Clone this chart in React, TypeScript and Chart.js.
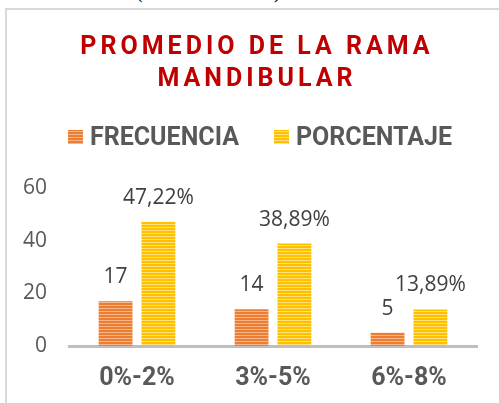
import React, { useEffect, useRef } from "react";
import { Chart, registerables } from "chart.js";

Chart.register(...registerables);

const categories = ["0%-2%", "3%-5%", "6%-8%"];
const frecuencia = [17, 14, 5];
const porcentaje = [47.22, 38.89, 13.89];
const seriesNames = ["FRECUENCIA", "PORCENTAJE"];
const titleLines = ["PROMEDIO DE LA RAMA", "MANDIBULAR"];
const yMin = 0;
const yMax = 60;
const yStep = 20;

const NARROW = 'Roboto, "Liberation Sans", sans-serif';
const SANS = '"Open Sans", "Noto Sans", sans-serif';

function makeStripes(ctx: CanvasRenderingContext2D, base: string, light: string) {
  const c = document.createElement("canvas");
  c.width = 4;
  c.height = 3;
  const x = c.getContext("2d")!;
  x.fillStyle = base;
  x.fillRect(0, 0, 4, 3);
  x.fillStyle = light;
  x.fillRect(0, 2, 4, 1);
  return ctx.createPattern(c, "repeat") as CanvasPattern;
}

const headerPlugin = {
  id: "header",
  afterDraw(chart: any) {
    const ctx: CanvasRenderingContext2D = chart.ctx;
    ctx.save();
    // title
    ctx.fillStyle = "#C00000";
    ctx.font = `bold 25px ${NARROW}`;
    const ls = 4;
    (ctx as any).letterSpacing = ls + "px";
    ctx.textAlign = "left";
    ctx.textBaseline = "alphabetic";
    const cx = 255;
    const baselines = [53.5, 86];
    titleLines.forEach((line, i) => {
      const w = ctx.measureText(line).width - ls;
      ctx.fillText(line, cx - w / 2, baselines[i]);
    });
    (ctx as any).letterSpacing = "0px";
    // legend
    ctx.font = `bold 25px ${NARROW}`;
    const box = 15;
    const gapBoxText = 7;
    const gapItems = 35;
    const items = chart.data.datasets.map((ds: any) => ({
      text: ds.label,
      fill: ds.backgroundColor,
      w: ctx.measureText(ds.label).width,
    }));
    const total = items.reduce((s: number, it: any) => s + box + gapBoxText + it.w, 0) + gapItems * (items.length - 1);
    let x = 260 - total / 2;
    const baseY = 145;
    items.forEach((it: any) => {
      ctx.fillStyle = it.fill;
      ctx.fillRect(x, baseY - 15, box, 14);
      x += box + gapBoxText;
      ctx.fillStyle = "#595959";
      ctx.fillText(it.text, x, baseY);
      x += it.w + gapItems;
    });
    ctx.restore();
  },
};

const labelPlugin = {
  id: "valueLabels",
  afterDatasetsDraw(chart: any) {
    const ctx: CanvasRenderingContext2D = chart.ctx;
    ctx.save();
    ctx.font = `21px ${SANS}`;
    ctx.fillStyle = "#404040";
    ctx.textAlign = "center";
    ctx.textBaseline = "alphabetic";
    chart.data.datasets.forEach((ds: any, i: number) => {
      const meta = chart.getDatasetMeta(i);
      meta.data.forEach((bar: any, j: number) => {
        const v = ds.data[j];
        const txt = i === 0 ? String(v) : v.toFixed(2).replace(".", ",") + "%";
        ctx.fillText(txt, bar.x, bar.y - 18);
      });
    });
    ctx.restore();
  },
};

export default function App() {
  const ref = useRef<HTMLCanvasElement | null>(null);

  useEffect(() => {
    const canvas = ref.current!;
    const ctx = canvas.getContext("2d")!;
    const orange = makeStripes(ctx, "#ED7D31", "#F6B58A");
    const yellow = makeStripes(ctx, "#FFC000", "#FFE07A");
    const chart = new Chart(canvas, {
      type: "bar",
      data: {
        labels: categories,
        datasets: [
          { label: seriesNames[0], data: frecuencia, backgroundColor: orange as any },
          { label: seriesNames[1], data: porcentaje, backgroundColor: yellow as any },
        ],
      },
      options: {
        responsive: false,
        animation: false,
        devicePixelRatio: 1,
        layout: { padding: { top: 188, left: 0, right: 22, bottom: 0 } },
        datasets: { bar: { categoryPercentage: 0.63, barPercentage: 0.79 } },
        plugins: {
          legend: { display: false },
          title: { display: false },
          tooltip: { enabled: false },
        },
        scales: {
          x: {
            grid: { display: false, drawTicks: false },
            border: { display: true, color: "#BFBFBF", width: 3 },
            ticks: {
              color: "#595959",
              font: { family: NARROW, size: 25, weight: "bold", lineHeight: 1.2 },
              padding: 18,
            },
            afterFit: (scale: any) => {
              scale.height = 57;
            },
          },
          y: {
            min: yMin,
            max: yMax,
            grid: { display: false, drawTicks: false },
            border: { display: false },
            ticks: {
              stepSize: yStep,
              color: "#595959",
              font: { family: SANS, size: 21 },
              padding: 22,
            },
            afterFit: (scale: any) => {
              scale.width = 69;
            },
          },
        },
      },
      plugins: [headerPlugin, labelPlugin],
    });
    return () => chart.destroy();
  }, []);

  return (
    <div style={{ position: "fixed", left: 0, top: 0, width: 499, height: 403, background: "#fff", overflow: "hidden" }}>
      <div style={{ position: "absolute", left: 136, top: -19, fontSize: 20, lineHeight: "20px", color: "#000" }}>(</div>
      <div style={{ position: "absolute", left: 274, top: -19, fontSize: 20, lineHeight: "20px", color: "#000" }}>)</div>
      <div style={{ position: "absolute", left: 5, top: 8, width: 700, height: 700, borderLeft: "2px solid #D9D9D9", borderTop: "2px solid #D9D9D9" }} />
      <canvas ref={ref} width={499} height={403} style={{ position: "absolute", left: 0, top: 0, width: 499, height: 403 }} />
    </div>
  );
}
